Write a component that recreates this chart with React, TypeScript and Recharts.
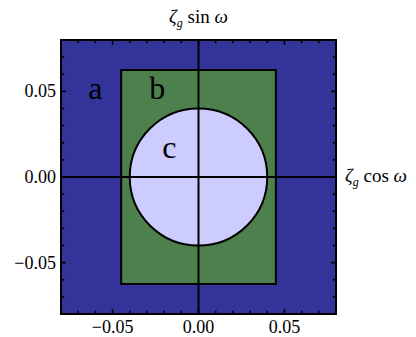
import React from "react";
import {
	ComposedChart,
	XAxis,
	YAxis,
	ReferenceArea,
	ReferenceLine,
	Scatter,
} from "recharts";

// plot range and regions (data units)
const plotRange = [-0.08, 0.08];
const rectB = { x: [-0.045, 0.045], y: [-0.0625, 0.0625] };
const circleR = 0.04;

// tick positions and labels
const minorTicks = [
	-0.07, -0.06, -0.05, -0.04, -0.03, -0.02, -0.01, 0, 0.01, 0.02, 0.03, 0.04,
	0.05, 0.06, 0.07,
];
const majorTicks = [-0.05, 0, 0.05];
const majorLabels = ["\u22120.05", "0.00", "0.05"];

// region letters
const regionNames = ["a", "b", "c"];
const regionX = [-0.06, -0.024, -0.017];
const regionY = [0.05, 0.05, 0.0157];

const SERIF = "'Liberation Serif', 'DejaVu Serif', serif";
const BLUE = "#333399";
const GREEN = "#4d804d";
const LAVENDER = "#ccccff";

const [lo, hi] = plotRange;

const letters = regionNames.map((name, i) => ({
	name,
	x: regionX[i],
	y: regionY[i],
}));

const isMajor = (v: number) => majorTicks.some((m) => Math.abs(m - v) < 1e-9);
// inward tick length, in data units (frame is ~1720 px per unit)
const tickLen = (v: number) => (isMajor(v) ? 0.0028 : 0.0019);

const labelFor = (v: number) =>
	majorLabels[majorTicks.findIndex((m) => Math.abs(m - v) < 1e-9)];

const BottomLabel = (props: any) => (
	<text x={props.x} y={props.y + 19} textAnchor="middle" fontFamily={SERIF} fontSize={18} fill="#000">
		{labelFor(props.payload.value)}
	</text>
);

const LeftLabel = (props: any) => (
	<text x={props.x - 5} y={props.y + 6} textAnchor="end" fontFamily={SERIF} fontSize={18} fill="#000">
		{labelFor(props.payload.value)}
	</text>
);

const AxisTitle = ({ x, y, anchor, fn }: { x: number; y: number; anchor: "middle" | "start"; fn: string }) => (
	<text x={x} y={y} textAnchor={anchor} fontFamily={SERIF} fontSize={19} fill="#000">
		<tspan fontStyle="italic">ζ</tspan>
		<tspan fontStyle="italic" fontSize={12} dy={4}>g</tspan>
		<tspan dy={-4}>{` ${fn} `}</tspan>
		<tspan fontStyle="italic">ω</tspan>
	</text>
);

const Letter = (props: any) => (
	<text
		x={props.cx}
		y={props.cy + 8}
		textAnchor="middle"
		fontFamily={SERIF}
		fontSize={32}
		fill="#000"
	>
		{props.payload.name}
	</text>
);

const Ellipse = (props: any) => {
	const { x, y, width, height } = props;
	return (
		<ellipse
			cx={x + width / 2}
			cy={y + height / 2}
			rx={width / 2}
			ry={height / 2}
			fill={LAVENDER}
			stroke="#000"
			strokeWidth={2}
		/>
	);
};

export default function App() {
	return (
		<div style={{ position: "absolute", left: 0, top: 0 }}>
			<ComposedChart
				width={416}
				height={337}
				margin={{ top: 40, right: 80, bottom: 0, left: 0 }}
			>
				<XAxis
					dataKey="x"
					type="number"
					domain={plotRange}
					allowDataOverflow
					ticks={majorTicks}
					interval={0}
					height={23}
					tickSize={0}
					tickMargin={0}
					axisLine={false}
					tickLine={false}
					tick={BottomLabel}
				/>
				<YAxis
					dataKey="y"
					type="number"
					domain={plotRange}
					allowDataOverflow
					ticks={majorTicks}
					interval={0}
					width={61}
					tickSize={0}
					tickMargin={0}
					axisLine={false}
					tickLine={false}
					tick={LeftLabel}
				/>
				<ReferenceArea
					x1={lo}
					x2={hi}
					y1={lo}
					y2={hi}
					fill={BLUE}
					fillOpacity={1}
					stroke="#000"
					strokeWidth={2}
				/>
				<ReferenceArea
					x1={rectB.x[0]}
					x2={rectB.x[1]}
					y1={rectB.y[0]}
					y2={rectB.y[1]}
					fill={GREEN}
					fillOpacity={1}
					stroke="#000"
					strokeWidth={2}
				/>
				<ReferenceArea
					x1={-circleR}
					x2={circleR}
					y1={-circleR}
					y2={circleR}
					shape={Ellipse}
				/>
				<ReferenceLine
					x={0}
					stroke="#000"
					strokeWidth={2}
					label={{
						content: (p: any) => (
							<AxisTitle x={p.viewBox.x} y={p.viewBox.y - 17} anchor="middle" fn="sin" />
						),
					}}
				/>
				<ReferenceLine
					y={0}
					stroke="#000"
					strokeWidth={2}
					label={{
						content: (p: any) => (
							<AxisTitle
								x={p.viewBox.x + p.viewBox.width + 9}
								y={p.viewBox.y + 5}
								anchor="start"
								fn="cos"
							/>
						),
					}}
				/>
				{/* inward frame ticks on all four sides */}
				{minorTicks.map((t) => (
					<ReferenceLine
						key={`b${t}`}
						segment={[
							{ x: t, y: lo },
							{ x: t, y: lo + tickLen(t) },
						]}
						stroke="#000"
						strokeWidth={1.6}
					/>
				))}
				{minorTicks.map((t) => (
					<ReferenceLine
						key={`t${t}`}
						segment={[
							{ x: t, y: hi },
							{ x: t, y: hi - tickLen(t) },
						]}
						stroke="#000"
						strokeWidth={1.6}
					/>
				))}
				{minorTicks.map((t) => (
					<ReferenceLine
						key={`l${t}`}
						segment={[
							{ x: lo, y: t },
							{ x: lo + tickLen(t), y: t },
						]}
						stroke="#000"
						strokeWidth={1.6}
					/>
				))}
				{minorTicks.map((t) => (
					<ReferenceLine
						key={`r${t}`}
						segment={[
							{ x: hi, y: t },
							{ x: hi - tickLen(t), y: t },
						]}
						stroke="#000"
						strokeWidth={1.6}
					/>
				))}
				<Scatter data={letters} shape={Letter} isAnimationActive={false} />
			</ComposedChart>
		</div>
	);
}
